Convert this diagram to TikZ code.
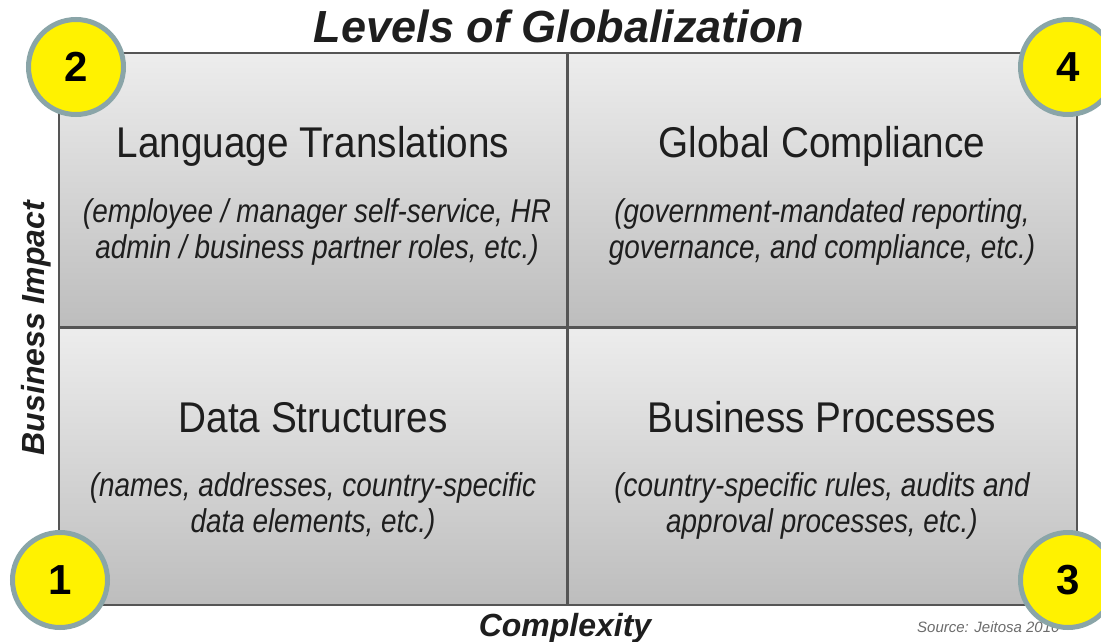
\documentclass[tikz,border=0pt]{standalone}
\usepackage{fontspec}
\setmainfont{Liberation Sans}
\newfontfamily\headfont[FakeStretch=0.9]{Liberation Sans}
\newfontfamily\condfont[FakeStretch=0.845]{Liberation Sans}
\definecolor{celltop}{HTML}{EDEDED}
\definecolor{cellbot}{HTML}{BDBDBD}
\definecolor{cellline}{HTML}{555555}
\definecolor{badgering}{HTML}{8AA5A8}
\definecolor{inktext}{HTML}{1E1E1E}
\begin{document}
\begin{tikzpicture}[x=1pt,y=1pt,
  cell/.style={top color=celltop,bottom color=cellbot,draw=cellline,line width=1.6pt},
  heading/.style={anchor=base,text=inktext,font=\headfont\fontsize{43}{48}\selectfont,inner sep=0pt},
  detail/.style={anchor=base,text=inktext,align=center,font=\condfont\itshape\fontsize{33}{36}\selectfont,inner sep=0pt},
  axislabel/.style={anchor=base,text=inktext,font=\bfseries\itshape\fontsize{32}{36}\selectfont,inner sep=0pt},
  badge/.style={circle,fill=yellow,draw=badgering,line width=5pt,minimum size=95pt,inner sep=0pt,
    font=\bfseries\fontsize{42}{42}\selectfont}]
\useasboundingbox[fill=white] (0,0) rectangle (1101,-642);

% quadrant cells
\shade[cell] (59,-53) rectangle (567,-327);
\shade[cell] (567,-53) rectangle (1077,-327);
\shade[cell] (59,-327) rectangle (567,-605);
\shade[cell] (567,-327) rectangle (1077,-605);
\draw[cellline,line width=3pt] (567,-53) -- (567,-605);
\draw[cellline,line width=3pt] (59,-327) -- (1077,-327);

% title and axes
\node[axislabel,font=\bfseries\itshape\fontsize{45}{50}\selectfont] (title) at (559,-43) {Levels of Globalization};
\node[axislabel] (xaxis) at (565,-636) {Complexity};
\node[axislabel,rotate=90] (yaxis) at (44,-328) {Business Impact};

% quadrant texts (detail nodes sit on the baseline of their last line)
\node[heading] (lt) at (313,-157) {Language Translations};
\node[detail] (ltd) at (317,-258) {(employee / manager self-service, HR\\admin / business partner roles, etc.)};
\node[heading] (gc) at (822,-157) {Global Compliance};
\node[detail] (gcd) at (822,-258) {(government-mandated reporting,\\governance, and compliance, etc.)};
\node[heading] (ds) at (313,-432) {Data Structures};
\node[detail] (dsd) at (313,-532) {(names, addresses, country-specific\\data elements, etc.)};
\node[heading] (bp) at (822,-432) {Business Processes};
\node[detail] (bpd) at (822,-532) {(country-specific rules, audits and\\approval processes, etc.)};

% source note
\node[anchor=base west,text=gray!85!black,font=\itshape\fontsize{15}{18}\selectfont,inner sep=0pt] (src) at (917,-632) {Source: Jeitosa 2010};

% numbered badges
\node[badge] (b2) at (76,-67) {2};
\node[badge] (b4) at (1068,-67) {4};
\node[badge] (b1) at (60,-580) {1};
\node[badge] (b3) at (1068,-580) {3};
\end{tikzpicture}
\end{document}
